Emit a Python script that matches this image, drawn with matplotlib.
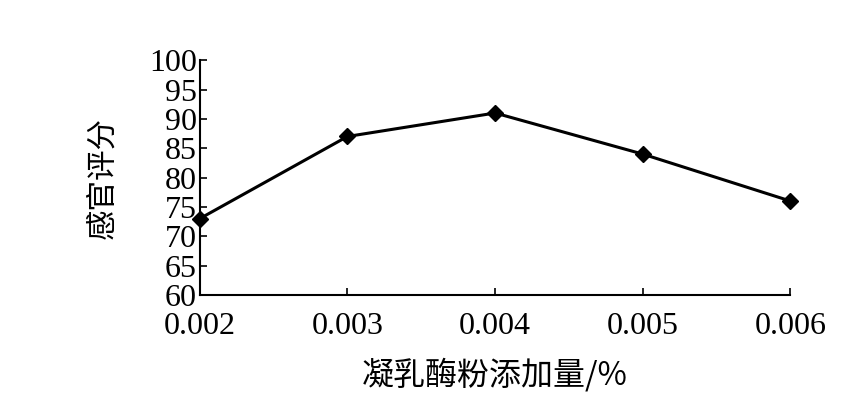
import matplotlib
matplotlib.use("Agg")
import matplotlib.pyplot as plt

# 凝乳酶粉添加量 vs 感官评分
dose = [0.002, 0.003, 0.004, 0.005, 0.006]
score = [73, 87, 91, 84, 76]
xticks = [0.002, 0.003, 0.004, 0.005, 0.006]
xtick_labels = ["0.002", "0.003", "0.004", "0.005", "0.006"]
yticks = list(range(60, 101, 5))

plt.rcParams['font.family'] = ['Liberation Serif', 'Noto Sans CJK SC']

fig = plt.figure(figsize=(8.61, 4.04), dpi=100)
ax = fig.add_axes([0.232, 0.270, 0.686, 0.581])

ax.plot(dose, score, color='black', lw=2.2, marker='D', ms=8, clip_on=False, zorder=3)

ax.set_xlim(0.002, 0.006)
ax.set_ylim(60, 100)
ax.set_xticks(xticks)
ax.set_xticklabels(xtick_labels)
ax.set_yticks(yticks)

for spine in ['right', 'top']:
    ax.spines[spine].set_visible(False)
for spine in ['left', 'bottom']:
    ax.spines[spine].set_linewidth(1.5)

ax.tick_params(direction='in', length=5, width=1.2, labelsize=23)
ax.tick_params(axis='y', pad=2)
ax.tick_params(axis='x', pad=12)

ax.set_ylabel('感官评分', family=['Noto Sans CJK SC'], fontsize=22, labelpad=22)
ax.set_xlabel('凝乳酶粉添加量/%', family=['Noto Sans CJK SC', 'Liberation Serif'], fontsize=23, labelpad=12)

fig.savefig('out.png', dpi=100)
